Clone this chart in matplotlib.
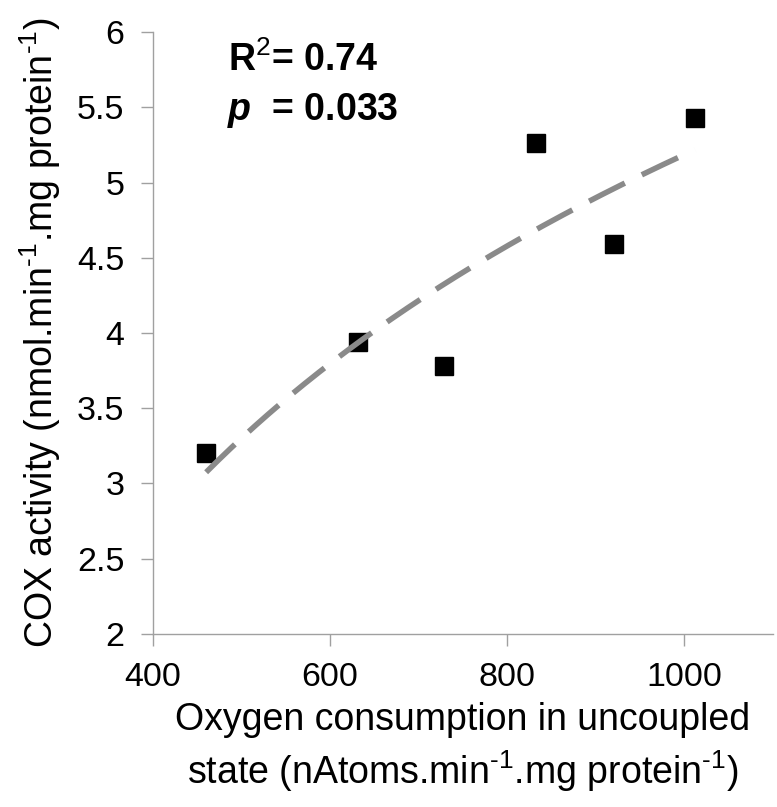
import matplotlib
matplotlib.use("Agg")
import matplotlib.pyplot as plt
import numpy as np

# data
oxygen = [460, 631, 729, 832, 921, 1012]
cox = [3.20, 3.94, 3.78, 5.26, 4.59, 5.43]
x_ticks = [400, 600, 800, 1000]
y_ticks = [2, 2.5, 3, 3.5, 4, 4.5, 5, 5.5, 6]
y_tick_labels = ["2", "2.5", "3", "3.5", "4", "4.5", "5", "5.5", "6"]
r2_text = "R$^{\\text{2}}$= 0.74"
p_text = "$\\boldsymbol{p}$  = 0.033"

plt.rcParams['font.family'] = ['Liberation Sans', 'DejaVu Sans']
plt.rcParams['mathtext.fontset'] = 'custom'
plt.rcParams['mathtext.rm'] = 'Liberation Sans'
plt.rcParams['mathtext.it'] = 'Liberation Sans:italic'
plt.rcParams['mathtext.bf'] = 'Liberation Sans:bold'
plt.rcParams['mathtext.bfit'] = 'Liberation Sans:bold:italic'

fig = plt.figure(figsize=(7.77, 8.07), dpi=100)
ax = fig.add_axes([0.1969, 0.2144, 0.798, 0.7459])

# logarithmic trendline (as in the spreadsheet chart)
a, b = np.polyfit(np.log(oxygen), cox, 1)
xs = np.linspace(min(oxygen), max(oxygen), 200)
ax.plot(xs, a * np.log(xs) + b, color='#8a8a8a', lw=4,
        dashes=(7.2, 3.4), solid_capstyle='butt', dash_capstyle='butt', zorder=3)

ax.plot(oxygen, cox, 's', color='black', markersize=12.5, zorder=2)

ax.set_xlim(400, 1100)
ax.set_ylim(2, 6)
ax.set_xticks(x_ticks)
ax.set_yticks(y_ticks)
ax.set_yticklabels(y_tick_labels)

for s in ['top', 'right']:
    ax.spines[s].set_visible(False)
for s in ['left', 'bottom']:
    ax.spines[s].set_color('#a0a0a0')
    ax.spines[s].set_linewidth(1)
ax.tick_params(axis='both', direction='out', length=8.5, width=1,
               color='#a0a0a0', labelsize=24.5, pad=12)

sup = "$^{\\text{-1}}$"
ax.set_ylabel("COX activity (nmol.min" + sup + ".mg protein" + sup + ")",
              fontsize=27, labelpad=10)
ax.set_xlabel("Oxygen consumption in uncoupled\nstate (nAtoms.min" + sup + ".mg protein" + sup + ")",
              fontsize=27, labelpad=6, linespacing=1.3)

ax.text(0.121, 0.985, r2_text, transform=ax.transAxes, fontsize=27,
        fontweight='bold', va='top', ha='left')
ax.text(0.119, 0.902, p_text, transform=ax.transAxes, fontsize=27,
        fontweight='bold', va='top', ha='left')

fig.savefig("out.png", dpi=100)
